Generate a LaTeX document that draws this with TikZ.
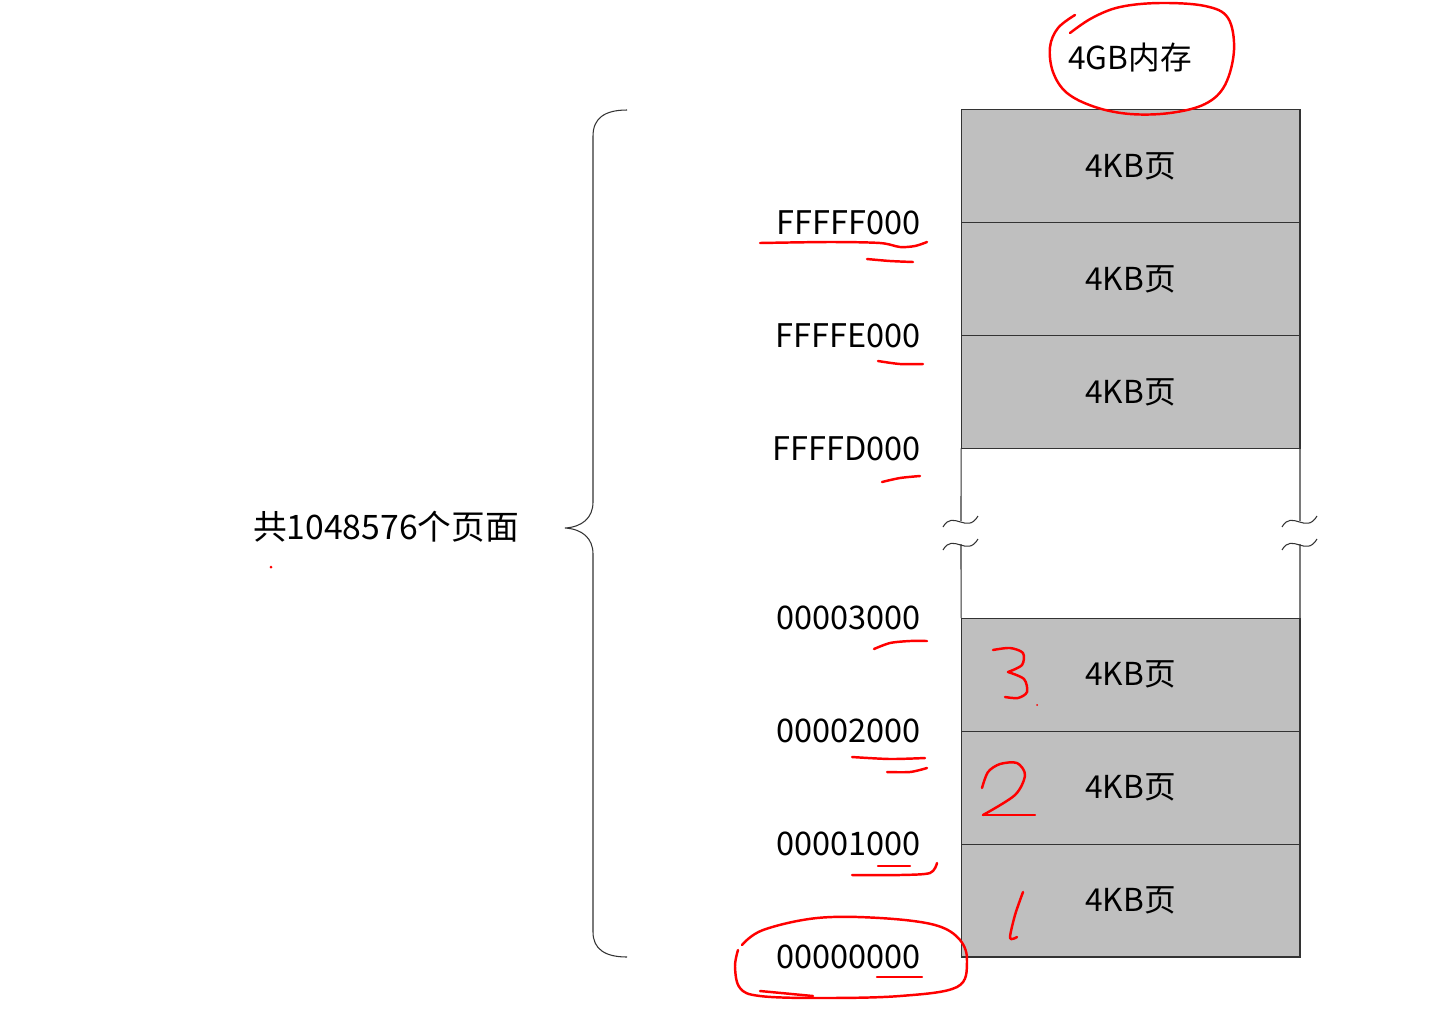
\documentclass[tikz,border=0pt]{standalone}
\usepackage{fontspec}
\setmainfont{Noto Sans CJK SC}
\usetikzlibrary{positioning}

\tikzset{
  page/.style={rectangle, draw=black!80, line width=0.6pt, fill=black!25, minimum width=6.78cm, minimum height=2.26cm, inner sep=0pt, outer sep=0pt, font=\fontsize{18}{20}\selectfont},
  addr/.style={inner sep=0pt, font=\fontsize{18.5}{20}\selectfont},
  txt/.style={inner sep=0pt, font=\fontsize{18}{20}\selectfont},
  edge/.style={draw=black!80, line width=0.6pt},
  pen/.style={red, line width=1.4pt, line cap=round, line join=round}
}

\begin{document}
\begin{tikzpicture}[x=0.02cm, y=-0.02cm]
\useasboundingbox (0,0) rectangle (1456,1035);

% upper pages
\node[page] (p1) at (1130.5,166) {4KB页};
\node[page, below=0pt of p1] (p2) {4KB页};
\node[page, below=0pt of p2] (p3) {4KB页};
% lower pages
\node[page] (q1) at (1130.5,900.5) {4KB页};
\node[page, above=0pt of q1] (q2) {4KB页};
\node[page, above=0pt of q2] (q3) {4KB页};

\node[txt] (mem) at (1130,58) {4GB内存};

% addresses
\node[addr, left=0.8cm of p1.south west] (aF) {FFFFF000};
\node[addr, left=0.8cm of p2.south west] (aE) {FFFFE000};
\node[addr, left=0.8cm of p3.south west] (aD) {FFFFD000};
\node[addr, left=0.8cm of q3.north west] (a3) {00003000};
\node[addr, left=0.8cm of q2.north west] (a2) {00002000};
\node[addr, left=0.8cm of q1.north west] (a1) {00001000};
\node[addr, left=0.8cm of q1.south west] (a0) {00000000};

\node[txt, font=\fontsize{19.2}{21}\selectfont] (total) at (386,527) {共1048576个页面};

% brace
\draw[edge] (627,110) .. controls (605,110) and (593,118) .. (593,136) -- (593,502)
  .. controls (593,518) and (582,527) .. (565,528)
  .. controls (582,529) and (593,538) .. (593,554) -- (593,932)
  .. controls (593,949) and (605,957) .. (627,957);

% gap with break marks
\coordinate (lt) at (961,521);
\coordinate (lb) at (961,544);
\coordinate (rt) at (1300,521);
\coordinate (rb) at (1300,544);
\draw[edge] (p3.south west) -- (lt);
\draw[edge] (lb) -- (q3.north west);
\draw[edge] (p3.south east) -- (rt);
\draw[edge] (rb) -- (q3.north east);
\foreach \c in {lt,lb,rt,rb}
  \draw[edge] ([shift={(-18,6)}]\c) .. controls ([shift={(-8,-12)}]\c) and ([shift={(6,14)}]\c) .. ([shift={(17,-5)}]\c);

% red notes
\draw[pen] plot[smooth, tension=0.6] coordinates {(1075,15) (1058,28) (1050,47) (1053,72) (1067,93) (1095,107) (1130,114) (1170,113) (1205,104) (1225,85) (1234,50) (1228,18) (1205,6) (1160,3) (1120,7) (1092,18) (1070,33)};
\draw[pen] plot[smooth] coordinates {(760,243) (830,242) (880,243) (900,247) (915,246) (927,242)};
\draw[pen] plot[smooth] coordinates {(867,259) (890,261) (913,262)};
\draw[pen] plot[smooth] coordinates {(878,361) (900,364) (923,364)};
\draw[pen] plot[smooth] coordinates {(882,482) (900,478) (920,476)};
\draw[pen] plot[smooth] coordinates {(874,649) (890,643) (910,641) (927,641)};
\draw[pen] plot[smooth] coordinates {(852,757) (890,759) (925,758)};
\draw[pen] plot[smooth] coordinates {(887,772) (910,772) (927,768)};
\draw[pen] (878,866) -- (910,866);
\draw[pen] plot[smooth] coordinates {(852,875) (900,875) (930,873) (937,863)};
\draw[pen] plot[smooth, tension=0.6] coordinates {(742,945) (763,930) (817,918) (880,918) (935,925) (960,940) (967,962) (957,987) (900,996) (820,998) (760,996) (740,988) (735,967) (738,950)};
\draw[pen] (760,991) -- (813,996);
\draw[pen] (877,977) -- (922,977);
% 3
\draw[pen] plot[smooth] coordinates {(993,650) (1010,648) (1023,653) (1022,665) (1008,672)};
\draw[pen] plot[smooth] coordinates {(1008,672) (1024,679) (1027,692) (1018,698) (1005,697)};
\fill[red] (1037,705) circle (1);
% 2
\draw[pen] plot[smooth] coordinates {(982,788) (988,772) (1000,764) (1017,763) (1025,775) (1015,795) (983,815)};
\draw[pen] (983,815) -- (1035,815);
% 1
\draw[pen] plot[smooth] coordinates {(1023,892) (1015,915) (1010,938) (1017,937)};
\fill[red] (271,567) circle (1.5);
\end{tikzpicture}
\end{document}
